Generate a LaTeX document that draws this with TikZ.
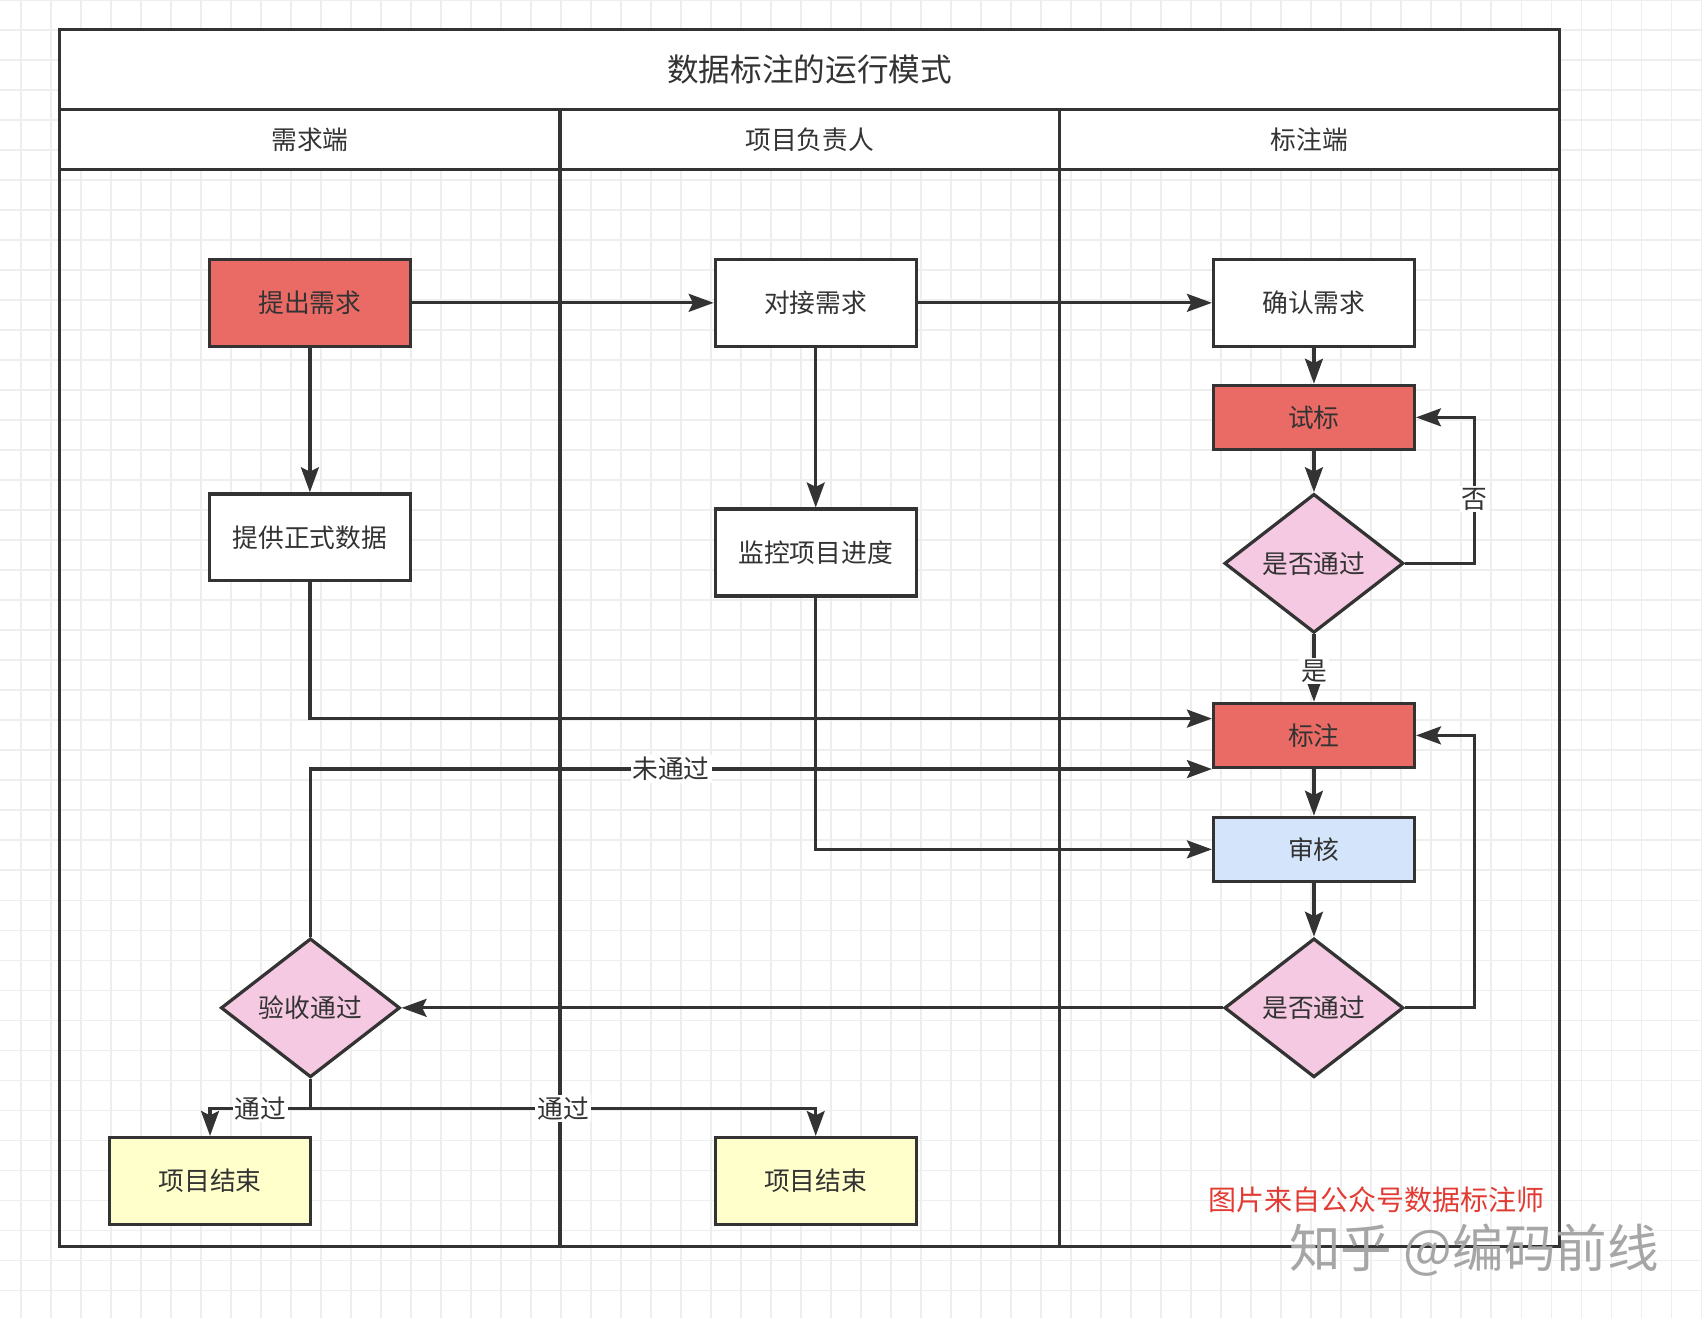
\documentclass[tikz,border=0pt]{standalone}
\usepackage{fontspec}
\setmainfont{Noto Sans CJK SC}
\usetikzlibrary{shapes.geometric,arrows.meta,calc}

\definecolor{linegray}{HTML}{333333}
\definecolor{redfill}{HTML}{EA6B66}
\definecolor{pinkfill}{HTML}{F4C9E1}
\definecolor{bluefill}{HTML}{D4E5FB}
\definecolor{yellowfill}{HTML}{FFFFCC}
\definecolor{gridgray}{HTML}{EEEEEE}
\definecolor{markred}{HTML}{E23B33}

\newcommand{\nodefont}{\fontsize{13.5}{16}\selectfont}

\tikzset{
    box/.style={draw=linegray, line width=1.7pt, minimum width=37mm, minimum height=16mm, inner sep=0pt, font=\nodefont, text=linegray},
    smallbox/.style={box, minimum height=11.8mm},
    decision/.style={diamond, draw=linegray, line width=1.7pt, fill=pinkfill, aspect=1.29, minimum width=33mm, minimum height=25.6mm, inner sep=0pt, font=\nodefont, text=linegray},
    arr/.style={draw=linegray, line width=1.7pt, -{Stealth[length=4.6mm,width=3.3mm,inset=0.8mm]}},
    lbl/.style={fill=white, inner sep=1pt, font=\nodefont, text=linegray},
    hdr/.style={font=\nodefont, text=linegray},
    lane/.style={draw=linegray, line width=1.7pt}
}

\begin{document}
\begin{tikzpicture}[x=0.2mm, y=-0.2mm]
    \useasboundingbox (0,0) rectangle (1568,1214);
    % grid behind the pool
    \foreach \i in {0,...,56}
        \draw[gridgray, line width=0.6pt] ({19.3+27.64*\i},0) -- ({19.3+27.64*\i},1214);
    \foreach \j in {0,...,43}
        \draw[gridgray, line width=0.6pt] (0,{27.64*\j}) -- (1568,{27.64*\j});

    % pool and lanes
    \fill[white] (55,27) rectangle (1437,156);
    \draw[lane] (55,27) rectangle (1437,1148);
    \draw[lane] (55,101) -- (1437,101);
    \draw[lane] (55,156) -- (1437,156);
    \draw[lane] (516,101) -- (516,1148);
    \draw[lane] (976,101) -- (976,1148);

    \node[hdr, font=\fontsize{16.6}{19}\selectfont] (title) at (746,64) {数据标注的运行模式};
    \node[hdr] (lane1) at (285.5,129) {需求端};
    \node[hdr] (lane2) at (746,129) {项目负责人};
    \node[hdr] (lane3) at (1206.5,129) {标注端};

    % steps
    \node[box, fill=redfill] (tichu) at (285.5,279) {提出需求};
    \node[box, fill=white] (duijie) at (751.5,279) {对接需求};
    \node[box, fill=white] (queren) at (1210.5,279) {确认需求};
    \node[smallbox, fill=redfill] (shibiao) at (1210.5,384.5) {试标};
    \node[decision] (check1) at (1210.5,519) {是否通过};
    \node[box, fill=white] (tigong) at (285.5,495) {提供正式数据};
    \node[box, fill=white] (jiankong) at (751.5,509) {监控项目进度};
    \node[smallbox, fill=redfill] (biaozhu) at (1210.5,677.5) {标注};
    \node[smallbox, fill=bluefill] (shenhe) at (1210.5,782.5) {审核};
    \node[decision] (check2) at (1210.5,928.5) {是否通过};
    \node[decision] (yanshou) at (286,928.5) {验收通过};
    \node[box, fill=yellowfill] (end1) at (193.5,1088) {项目结束};
    \node[box, fill=yellowfill] (end2) at (751.5,1088) {项目结束};

    % connectors
    \draw[arr] (tichu) -- (duijie);
    \draw[arr] (duijie) -- (queren);
    \draw[arr] (queren) -- (shibiao);
    \draw[arr] (shibiao) -- (check1);
    \draw[arr] (check1.east) -- ++(64,0) |- node[lbl, pos=0.22]{否} (shibiao.east);
    \draw[arr] (check1) -- node[lbl, pos=0.54]{是} (biaozhu);
    \draw[arr] (tichu) -- (tigong);
    \draw[arr] (duijie) -- (jiankong);
    \draw[arr] (tigong.south) |- ($(biaozhu.north west)!0.25!(biaozhu.south west)$);
    \draw[arr] (yanshou.north) |- node[lbl, pos=0.7]{未通过} (biaozhu.south west);
    \draw[arr] (jiankong.south) |- (shenhe.west);
    \draw[arr] (biaozhu) -- (shenhe);
    \draw[arr] (shenhe) -- (check2);
    \draw[arr] (check2.east) -- ++(64,0) |- (biaozhu.east);
    \draw[arr] (check2) -- (yanshou);
    \draw[arr] (yanshou.south) -- ++(0,27) -| node[lbl, pos=0.25]{通过} (end1.north);
    \draw[arr] (yanshou.south) -- ++(0,27) -| node[lbl, pos=0.25]{通过} (end2.north);

    % credits
    \node[text=markred, font=\fontsize{14.7}{17}\selectfont] (credit) at (1268,1105) {图片来自公众号数据标注师};
    \node[text=black!35, font=\fontsize{27}{30}\selectfont] (zhihu) at (1358,1152) {知乎 @编码前线};
\end{tikzpicture}
\end{document}
